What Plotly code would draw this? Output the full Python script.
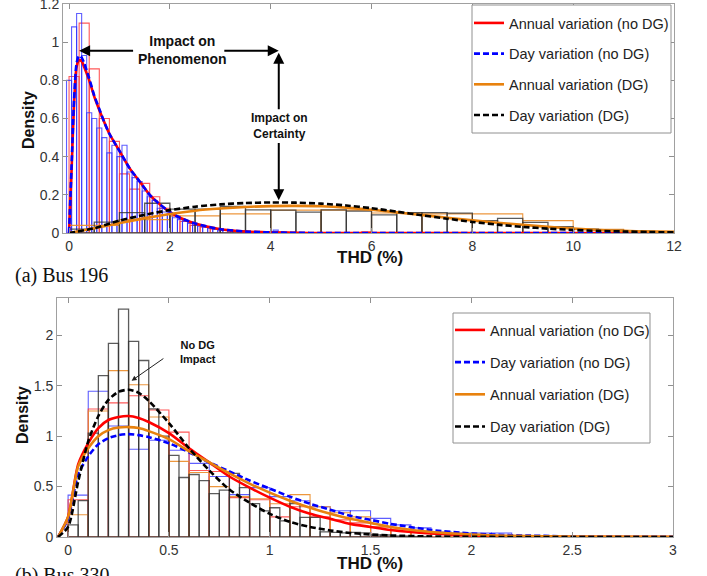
import numpy as np
import plotly.graph_objects as go

W, H = 707, 576
FONT = "Liberation Sans, Arial, sans-serif"

# ---------------- (a) Bus 196 : histogram data ----------------
top_red_centers = np.round(np.arange(0.1, 6.0, 0.2), 3)          # bin width 0.2
top_red_hist = [0.82, 1.10, 0.86, 0.60, 0.48, 0.31, 0.23, 0.26, 0.19, 0.13,
                0.09, 0.06, 0.04, 0.03, 0.02, 0.015, 0.01, 0.01, 0.008, 0.006,
                0.005, 0.004, 0.003, 0.002, 0.002, 0.001, 0.001, 0.001, 0.001, 0.006]
top_blue_centers = np.round(np.arange(0.0, 4.45, 0.1), 3)        # bin width 0.1
top_blue_hist = [0.80, 1.08, 1.15, 0.93, 0.63, 0.60, 0.55, 0.50, 0.42, 0.46,
                 0.40, 0.46, 0.32, 0.29, 0.27, 0.22, 0.19, 0.17, 0.13, 0.11,
                 0.10, 0.08, 0.07, 0.06, 0.05, 0.04, 0.035, 0.03, 0.025, 0.02,
                 0.02, 0.015, 0.015, 0.01, 0.01, 0.01, 0.008, 0.006, 0.005, 0.005,
                 0.004, 0.015, 0.004, 0.003, 0.002]
top_orange_centers = np.arange(0.5, 12.0, 1.0)                   # bin width 1
top_orange_hist = [0.04, 0.07, 0.09, 0.10, 0.12, 0.12, 0.105, 0.10, 0.10, 0.065, 0.02, 0.01]
top_black_centers = np.arange(0.25, 12.0, 0.5)                   # bin width 0.5
top_black_hist = [0.02, 0.057, 0.107, 0.156, 0.125, 0.125, 0.14, 0.121, 0.12, 0.109,
                  0.121, 0.115, 0.095, 0.107, 0.107, 0.104, 0.065, 0.077, 0.056, 0.033,
                  0.02, 0.015, 0.01, 0.005]

# ---------------- (a) fitted density curves ----------------
top_x_nodg = [0, 0.05, 0.1, 0.15, 0.2, 0.25, 0.3, 0.4, 0.5, 0.6, 0.7, 0.8, 1.0, 1.2,
              1.4, 1.6, 1.8, 2.0, 2.2, 2.5, 3.0, 3.5, 4.0, 4.5, 5, 6, 8, 10, 12]
top_red_fit = [0, 0.33, 0.68, 0.87, 0.905, 0.90, 0.87, 0.80, 0.715, 0.645, 0.58, 0.52,
               0.43, 0.34, 0.27, 0.20, 0.15, 0.11, 0.08, 0.05, 0.02, 0.008, 0.003,
               0.001, 0, 0, 0, 0, 0]
top_blue_fit = [0, 0.35, 0.70, 0.89, 0.93, 0.92, 0.89, 0.81, 0.72, 0.65, 0.58, 0.52,
                0.43, 0.34, 0.27, 0.20, 0.15, 0.11, 0.08, 0.05, 0.02, 0.008, 0.003,
                0.001, 0, 0, 0, 0, 0]
top_x_dg = [0, 0.5, 1, 1.5, 2, 2.5, 3, 3.5, 4, 4.5, 5, 5.5, 6, 6.5, 7, 7.5, 8, 8.5,
            9, 9.5, 10, 10.5, 11, 11.5, 12]
top_orange_fit = [0, 0.025, 0.052, 0.078, 0.10, 0.117, 0.128, 0.136, 0.141, 0.142,
                  0.140, 0.133, 0.122, 0.108, 0.094, 0.080, 0.066, 0.054, 0.043,
                  0.032, 0.023, 0.016, 0.011, 0.008, 0.005]
top_black_fit = [0, 0.025, 0.065, 0.095, 0.12, 0.138, 0.15, 0.157, 0.16, 0.159,
                 0.154, 0.144, 0.13, 0.112, 0.093, 0.075, 0.058, 0.044, 0.032,
                 0.023, 0.016, 0.011, 0.008, 0.005, 0.003]

# ---------------- (b) Bus 330 : histogram data ----------------
bot_black_centers = np.round(np.arange(0.025, 1.8, 0.05), 3)      # bin width 0.05
bot_black_hist = [0.12, 0.36, 1.03, 1.60, 1.92, 2.26, 1.94, 1.75, 1.27, 1.00,
                  0.81, 0.59, 0.62, 0.56, 0.43, 0.465, 0.63, 0.49, 0.33, 0.26,
                  0.29, 0.16, 0.33, 0.195, 0.195, 0.05, 0.045, 0.04, 0.045, 0.04,
                  0.02, 0.02, 0.01, 0.01, 0.005, 0.005]
bot_blue_centers = np.round(np.arange(0.05, 2.3, 0.1), 3)         # bin width 0.1
bot_blue_hist = [0.415, 1.445, 1.10, 0.87, 0.96, 0.86, 0.73, 0.60, 0.42, 0.49,
                 0.40, 0.36, 0.30, 0.26, 0.26, 0.185, 0.12, 0.09, 0.05, 0.04,
                 0.04, 0.04, 0.01]
bot_red_centers = np.round(np.arange(0.05, 2.2, 0.1), 3)
bot_red_hist = [0.37, 1.27, 1.33, 1.40, 1.26, 1.04, 0.66, 0.65, 0.39, 0.37,
                0.20, 0.30, 0.20, 0.17, 0.14, 0.10, 0.07, 0.05, 0.03, 0.02,
                0.015, 0.01]
bot_orange_centers = np.round(np.arange(0.05, 2.3, 0.1), 3)
bot_orange_hist = [0.22, 1.25, 1.65, 1.51, 1.19, 0.75, 0.64, 0.50, 0.40, 0.38,
                   0.33, 0.42, 0.30, 0.24, 0.20, 0.10, 0.08, 0.06, 0.04, 0.03,
                   0.02, 0.015, 0.01]

# ---------------- (b) fitted density curves ----------------
bot_x = [-0.05, 0, 0.05, 0.1, 0.15, 0.2, 0.25, 0.3, 0.35, 0.4, 0.5, 0.6, 0.7, 0.8,
         0.9, 1.0, 1.1, 1.2, 1.3, 1.4, 1.5, 1.6, 1.8, 2.0, 2.2, 2.5, 3.0]
bot_red_fit = [0, 0.2, 0.72, 0.93, 1.08, 1.16, 1.19, 1.20, 1.18, 1.14, 1.03, 0.88,
               0.74, 0.60, 0.49, 0.39, 0.30, 0.23, 0.18, 0.13, 0.10, 0.07, 0.035,
               0.015, 0.007, 0.002, 0]
bot_orange_fit = [0, 0.2, 0.70, 0.88, 1.00, 1.06, 1.085, 1.09, 1.08, 1.05, 0.97, 0.85,
                  0.74, 0.63, 0.53, 0.44, 0.36, 0.29, 0.23, 0.18, 0.14, 0.10, 0.05,
                  0.025, 0.012, 0.004, 0.001]
bot_blue_fit = [0, 0.18, 0.62, 0.80, 0.92, 0.98, 1.01, 1.02, 1.01, 0.99, 0.93, 0.84,
                0.74, 0.65, 0.56, 0.48, 0.40, 0.33, 0.27, 0.21, 0.17, 0.13, 0.07,
                0.035, 0.018, 0.006, 0.001]
bot_black_fit = [0, 0.1, 0.55, 0.95, 1.20, 1.36, 1.44, 1.46, 1.43, 1.35, 1.13, 0.88,
                 0.66, 0.47, 0.34, 0.23, 0.15, 0.10, 0.065, 0.04, 0.025, 0.015, 0.005,
                 0.002, 0, 0, 0]

series_names = ["Annual variation (no DG)", "Day variation (no DG)",
                "Annual variation (DG)", "Day variation (DG)"]

# ---------------- styles ----------------
C_RED, C_BLUE, C_ORANGE, C_BLACK = "#ff0000", "#0000ff", "#e8820e", "#000000"
H_RED, H_BLUE, H_ORANGE, H_BLACK = ("rgba(255,60,60,0.85)", "rgba(40,40,255,0.75)",
                                    "rgba(235,140,40,0.9)", "rgba(50,50,50,0.8)")
DASH = "6px,3px"
LEG_FS = 14.5

fig = go.Figure()


def hist(centers, heights, width, color, xa, ya, lw=1.1):
    fig.add_trace(go.Bar(x=list(centers), y=heights, width=width, base=0,
                         marker=dict(color="rgba(0,0,0,0)", line=dict(color=color, width=lw)),
                         xaxis=xa, yaxis=ya, showlegend=False, hoverinfo="skip"))


def curve(x, y, color, dash, name, xa, ya, legend):
    fig.add_trace(go.Scatter(x=x, y=y, mode="lines", name=name,
                             line=dict(color=color, width=2.6, dash=dash, shape="spline", smoothing=0.7),
                             xaxis=xa, yaxis=ya, legend=legend, legendgroup=legend + name))


# top panel
hist(top_red_centers, top_red_hist, 0.2, H_RED, "x", "y")
hist(top_blue_centers, top_blue_hist, 0.1, H_BLUE, "x", "y")
hist(top_orange_centers, top_orange_hist, 1.0, H_ORANGE, "x", "y")
hist(top_black_centers, top_black_hist, 0.5, H_BLACK, "x", "y", 1.3)
curve(top_x_nodg, top_red_fit, C_RED, "solid", series_names[0], "x", "y", "legend")
curve(top_x_nodg, top_blue_fit, C_BLUE, DASH, series_names[1], "x", "y", "legend")
curve(top_x_dg, top_orange_fit, C_ORANGE, "solid", series_names[2], "x", "y", "legend")
curve(top_x_dg, top_black_fit, C_BLACK, DASH, series_names[3], "x", "y", "legend")

# bottom panel
hist(bot_blue_centers, bot_blue_hist, 0.1, H_BLUE, "x2", "y2")
hist(bot_red_centers, bot_red_hist, 0.1, H_RED, "x2", "y2")
hist(bot_orange_centers, bot_orange_hist, 0.1, H_ORANGE, "x2", "y2")
hist(bot_black_centers, bot_black_hist, 0.05, H_BLACK, "x2", "y2", 1.3)
curve(bot_x, bot_red_fit, C_RED, "solid", series_names[0], "x2", "y2", "legend2")
curve(bot_x, bot_blue_fit, C_BLUE, DASH, series_names[1], "x2", "y2", "legend2")
curve(bot_x, bot_orange_fit, C_ORANGE, "solid", series_names[2], "x2", "y2", "legend2")
curve(bot_x, bot_black_fit, C_BLACK, DASH, series_names[3], "x2", "y2", "legend2")


def px(x):
    return x / W


def py(y):
    return 1 - y / H


axis_common = dict(showline=True, linecolor="#a0a0a0", linewidth=1, mirror="ticks",
                   ticks="inside", ticklen=5, tickcolor="#909090", showgrid=False,
                   zeroline=False, ticklabeloverflow="allow", automargin=False,
                   tickfont=dict(family=FONT, size=14, color="#333333"))

fig.update_layout(
    width=W, height=H, autosize=False,
    margin=dict(l=0, r=0, t=0, b=0, pad=0, autoexpand=False),
    paper_bgcolor="white", plot_bgcolor="white", barmode="overlay", hovermode=False,
    font=dict(family=FONT, color="#222222"),
    xaxis=dict(domain=[px(63), px(674)], range=[-0.12, 12], anchor="y",
               tickvals=[0, 2, 4, 6, 8, 10, 12], **axis_common),
    yaxis=dict(domain=[py(233), py(4)], range=[0, 1.2], anchor="x",
               tickvals=[0, 0.2, 0.4, 0.6, 0.8, 1.0, 1.2],
               ticktext=["0", "0.2", "0.4", "0.6", "0.8", "1", "1.2"], **axis_common),
    xaxis2=dict(domain=[px(57), px(673)], range=[-0.055, 3], anchor="y2",
                tickvals=[0, 0.5, 1, 1.5, 2, 2.5, 3],
                ticktext=["0", "0.5", "1", "1.5", "2", "2.5", "3"], **axis_common),
    yaxis2=dict(domain=[py(537), py(298)], range=[0, 2.37], anchor="x2",
                tickvals=[0, 0.5, 1, 1.5, 2], ticktext=["0", "0.5", "1", "1.5", "2"],
                **axis_common),
    legend=dict(x=px(469), y=py(7), xanchor="left", yanchor="top",
                bgcolor="rgba(0,0,0,0)", borderwidth=0,
                font=dict(family=FONT, size=LEG_FS, color="#222222"),
                tracegroupgap=8.85, traceorder="grouped", itemwidth=30),
    legend2=dict(x=px(450), y=py(314), xanchor="left", yanchor="top",
                 bgcolor="rgba(0,0,0,0)", borderwidth=0,
                 font=dict(family=FONT, size=LEG_FS, color="#222222"),
                 tracegroupgap=10.35, traceorder="grouped", itemwidth=30),
    shapes=[
        dict(type="rect", xref="paper", yref="paper", x0=px(472), x1=px(671), y0=py(133), y1=py(5),
             fillcolor="white", line=dict(color="#909090", width=1), layer="above"),
        dict(type="rect", xref="paper", yref="paper", x0=px(453), x1=px(650), y0=py(443), y1=py(313),
             fillcolor="white", line=dict(color="#909090", width=1), layer="above"),
    ],
)

ann = []
# axis titles
for (tx, ty, txt, ang, sz) in [(28, 120, "Density", -90, 16), (22, 415, "Density", -90, 16),
                               (370, 257, "THD (%)", 0, 17), (370, 563, "THD (%)", 0, 17)]:
    ann.append(dict(x=px(tx), y=py(ty), xref="paper", yref="paper", text="<b>%s</b>" % txt,
                    textangle=ang, showarrow=False, xanchor="center", yanchor="middle",
                    font=dict(family=FONT, size=sz, color="#111111")))
# panel captions
ann.append(dict(x=px(13), y=py(275), xref="paper", yref="paper", text="(a) Bus 196",
                showarrow=False, xanchor="left", yanchor="middle",
                font=dict(family="Liberation Serif, Times New Roman, serif", size=20, color="#111111")))
ann.append(dict(x=px(13), y=py(562), xref="paper", yref="paper", text="(b) Bus 330",
                showarrow=False, xanchor="left", yanchor="top",
                font=dict(family="Liberation Serif, Times New Roman, serif", size=20, color="#111111")))

# top panel texts and arrows
ann.append(dict(x=2.26, y=0.958, xref="x", yref="y", text="<b>Impact on<br>Phenomenon</b>",
                showarrow=False, font=dict(family=FONT, size=14, color="#111111")))
ann.append(dict(x=4.17, y=0.56, xref="x", yref="y", text="<b>Impact on<br>Certainty</b>",
                showarrow=False, font=dict(family=FONT, size=12, color="#111111")))
arrow_style = dict(xref="x", yref="y", axref="x", ayref="y", text="", showarrow=True,
                   arrowhead=2, arrowsize=1.1, arrowwidth=2, arrowcolor="#000000")
ann.append(dict(x=0.2, y=0.955, ax=1.3, ay=0.955, **arrow_style))
ann.append(dict(x=4.16, y=0.955, ax=3.05, ay=0.955, **arrow_style))
ann.append(dict(x=4.16, y=0.945, ax=4.16, ay=0.64, **arrow_style))
ann.append(dict(x=4.16, y=0.172, ax=4.16, ay=0.48, **arrow_style))

# bottom panel text and arrow
ann.append(dict(x=0.645, y=1.83, xref="x2", yref="y2", text="<b>No DG<br>Impact</b>",
                showarrow=False, font=dict(family=FONT, size=11, color="#111111")))
ann.append(dict(x=0.315, y=1.55, ax=0.48, ay=1.78, xref="x2", yref="y2", axref="x2",
                ayref="y2", text="", showarrow=True, arrowhead=2, arrowsize=1,
                arrowwidth=1, arrowcolor="#222222"))

fig.update_layout(annotations=ann)
fig.write_html("out.html",
               config={"responsive": False, "displayModeBar": False},
               post_script="document.body.style.margin='0px';document.body.style.overflow='hidden';")
